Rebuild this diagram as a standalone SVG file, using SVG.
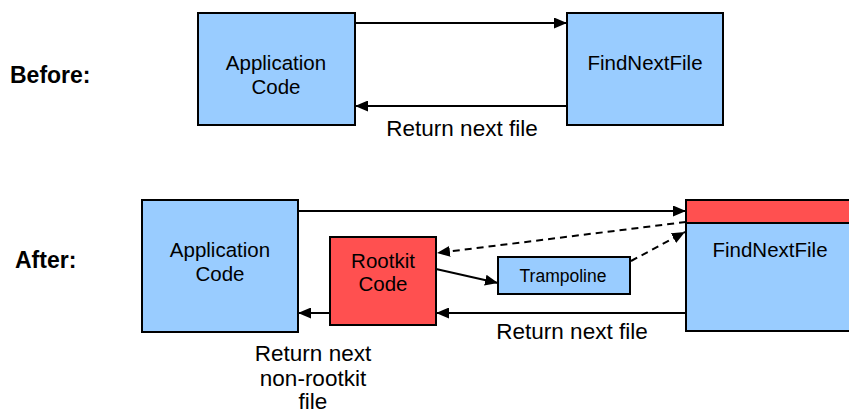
<svg xmlns="http://www.w3.org/2000/svg" width="849" height="414" viewBox="0 0 849 414">
<style>
.blue{fill:#99CCFF;stroke:#000;stroke-width:2}
.red{fill:#FF5050;stroke:#000;stroke-width:2}
.t{font-family:"Liberation Sans",Arial,sans-serif;font-size:20.5px;fill:#000;text-anchor:middle}
.s{font-size:17.5px}
.c{font-size:22.5px}
.b{font-family:"Liberation Sans",Arial,sans-serif;font-size:23px;font-weight:bold;fill:#000}
.ln{stroke:#000;stroke-width:2;fill:none}
.d{stroke-dasharray:7,5}
</style>
<defs>
<marker id="ah" markerWidth="13" markerHeight="11" refX="13" refY="5.5" orient="auto" markerUnits="userSpaceOnUse">
<path d="M0,0 L13,5.5 L0,11 Z" fill="#000"/>
</marker>
</defs>
<text class="b" x="10" y="83">Before:</text>
<text class="b" x="15" y="268">After:</text>
<g id="app1">
<rect class="blue" x="198" y="13" width="157" height="112"/>
<text class="t" x="276" y="70">Application</text>
<text class="t" x="276" y="94">Code</text>
</g>
<g id="find1">
<rect class="blue" x="567" y="13" width="156" height="112"/>
<text class="t" x="645" y="70">FindNextFile</text>
</g>
<g id="app2">
<rect class="blue" x="142" y="200" width="156" height="132"/>
<text class="t" x="220" y="257">Application</text>
<text class="t" x="220" y="281">Code</text>
</g>
<g id="rootkit">
<rect class="red" x="330" y="237" width="106" height="88"/>
<text class="t" x="383" y="268">Rootkit</text>
<text class="t" x="383" y="291">Code</text>
</g>
<g id="trampoline">
<rect class="blue" x="498" y="257" width="132" height="37"/>
<text class="t s" x="563" y="282">Trampoline</text>
</g>
<g id="find2">
<rect class="blue" x="686" y="200" width="170" height="131"/>
<rect class="red" x="686" y="200" width="170" height="23"/>
<text class="t" x="770" y="257">FindNextFile</text>
</g>
<g id="connectors">
<line class="ln" x1="355" y1="23" x2="567" y2="23" marker-end="url(#ah)"/>
<line class="ln" x1="567" y1="106" x2="355" y2="106" marker-end="url(#ah)"/>
<line class="ln" x1="298" y1="211" x2="686" y2="211" marker-end="url(#ah)"/>
<line class="ln d" x1="686" y1="222" x2="437" y2="253" marker-end="url(#ah)"/>
<line class="ln" x1="436" y1="269" x2="498" y2="283" marker-end="url(#ah)"/>
<line class="ln d" x1="631" y1="261" x2="685" y2="232" marker-end="url(#ah)"/>
<line class="ln" x1="686" y1="313" x2="436" y2="313" marker-end="url(#ah)"/>
<line class="ln" x1="330" y1="313" x2="298" y2="313" marker-end="url(#ah)"/>
</g>
<text class="t c" x="462" y="136">Return next file</text>
<text class="t c" x="572" y="339">Return next file</text>
<text class="t c" x="313" y="361">Return next</text>
<text class="t c" x="313" y="386">non-rootkit</text>
<text class="t c" x="313" y="409">file</text>
</svg>
